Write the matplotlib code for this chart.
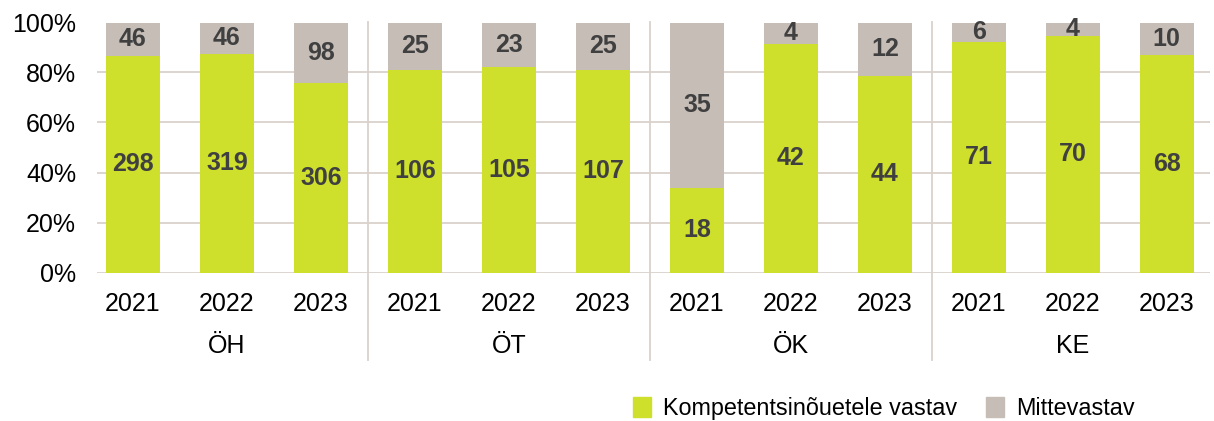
import numpy as np
import matplotlib
matplotlib.use("Agg")
import matplotlib.pyplot as plt
from matplotlib.lines import Line2D
from matplotlib.patches import Patch

plt.rcParams['font.family'] = ['Liberation Sans', 'DejaVu Sans']

groups = ["ÖH", "ÖT", "ÖK", "KE"]
years = ["2021", "2022", "2023"]
vastav = [298, 319, 306, 106, 105, 107, 18, 42, 44, 71, 70, 68]
mitte = [46, 46, 98, 25, 23, 25, 35, 4, 12, 6, 4, 10]

green = "#cedf2c"
grey = "#c6bdb7"
gridc = "#d9d1cc"
labc = "#404040"

vastav = np.array(vastav, dtype=float)
mitte = np.array(mitte, dtype=float)
tot = vastav + mitte
pg = vastav / tot * 100
pm = mitte / tot * 100

fig = plt.figure(figsize=(12.14, 4.21), dpi=100)
ax = fig.add_axes([97 / 1214, 1 - 272.5 / 421, 1113 / 1214, 250 / 421])

x = np.arange(len(vastav))
w = 0.575
ax.bar(x, pg, w, color=green, zorder=2)
ax.bar(x, pm, w, bottom=pg, color=grey, zorder=2)

for i in range(len(x)):
    ax.text(x[i], pg[i] / 2, "%d" % vastav[i], ha="center", va="center",
            fontsize=18, fontweight="bold", color=labc, zorder=3)
    ax.text(x[i], pg[i] + pm[i] / 2, "%d" % mitte[i], ha="center", va="center",
            fontsize=18, fontweight="bold", color=labc, zorder=3)

ax.set_xlim(-0.383, 11.46)
ax.set_ylim(0, 100)
ax.set_yticks(range(0, 101, 20))
ax.set_yticklabels(["%d%%" % v for v in range(0, 101, 20)], fontsize=18)
ax.set_xticks(x)
ax.set_xticklabels(years * 4, fontsize=18)
ax.tick_params(axis="both", length=0)
ax.tick_params(axis="y", pad=15)
ax.tick_params(axis="x", pad=14)
for s in ax.spines.values():
    s.set_visible(False)
ax.yaxis.grid(True, color=gridc, linewidth=1.3, zorder=0)
ax.set_axisbelow(True)

trans = ax.get_xaxis_transform()
for b in [2.5, 5.5, 8.5]:
    ax.add_line(Line2D([b, b], [1.0, -0.35], transform=trans, color=gridc,
                       linewidth=1.3, clip_on=False, zorder=1))
for g, name in enumerate(groups):
    ax.text(3 * g + 1, -0.295, name, transform=trans, ha="center", va="center",
            fontsize=18)

handles = [Patch(color=green, label="Kompetentsinõuetele vastav"),
           Patch(color=grey, label="Mittevastav")]
fig.legend(handles=handles, loc="center left", bbox_to_anchor=(633 / 1214, 0.03),
           ncol=2, frameon=False, fontsize=16.8, handlelength=0.78, handleheight=0.9,
           handletextpad=0.5, columnspacing=1.25, borderaxespad=0, borderpad=0)

fig.savefig("out.png", dpi=100)
